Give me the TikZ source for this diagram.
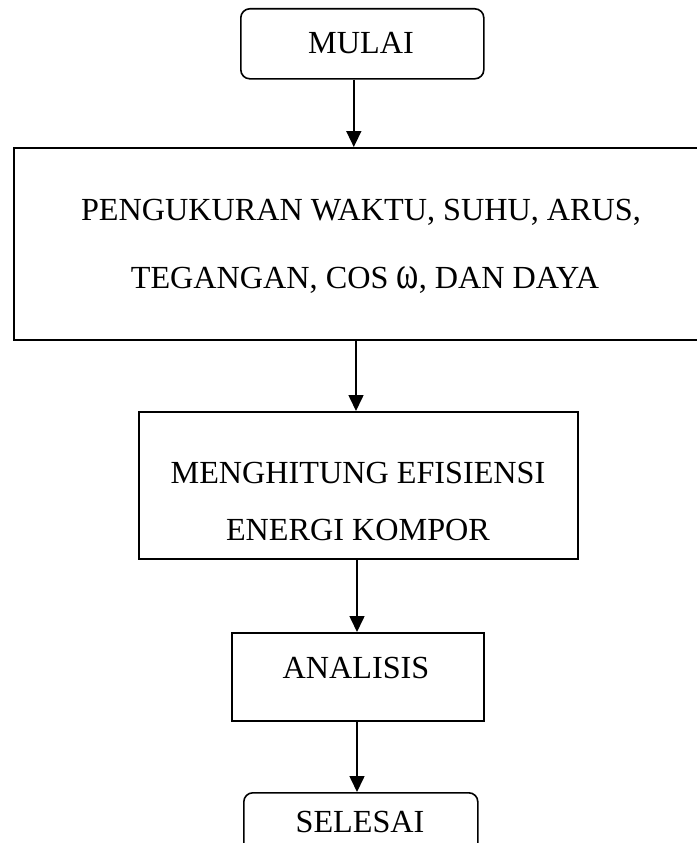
\documentclass[tikz,border=0pt]{standalone}
\usepackage{fontspec}
\setmainfont{Liberation Serif}
\usetikzlibrary{arrows.meta,calc}
\begin{document}
\begin{tikzpicture}[x=1pt,y=-1pt,
  box/.style={draw=black,line width=1.6pt,rectangle,inner sep=0pt,anchor=north west},
  term/.style={box,rounded corners=9pt},
  arr/.style={line width=1.6pt,-{Triangle[length=16pt,width=15pt]}},
  txt/.style={anchor=base,inner sep=0pt,font=\fontsize{32.2}{36}\selectfont}]
\useasboundingbox (0,0) rectangle (696,843);
% boxes
\node[term,minimum width=243pt,minimum height=70pt] (mulai) at (240,8) {};
\node[box,line width=2pt,minimum width=700pt,minimum height=192pt] (ukur) at (13,147) {};
\node[box,minimum width=439pt,minimum height=147pt] (hitung) at (138,411) {};
\node[box,minimum width=252pt,minimum height=88pt] (analisis) at (231,632) {};
\node[term,minimum width=234pt,minimum height=80pt] (selesai) at (243,792) {};
% texts
\node[txt] (t1) at (361,53) {MULAI};
\node[txt] (t2) at (361,220) {PENGUKURAN WAKTU, SUHU, ARUS,};
\node[txt] (t3) at (365,288) {TEGANGAN, COS \scalebox{1.05}[1.45]{ω}, DAN DAYA};
\node[txt] (t4) at (358,483) {MENGHITUNG EFISIENSI};
\node[txt] (t5) at (358,540) {ENERGI KOMPOR};
\node[txt] (t6) at (356,678) {ANALISIS};
\node[txt] (t7) at (360,832) {SELESAI};
% arrows
\coordinate (a1) at ($(mulai.south)+(-8.5,0)$);
\draw[arr] (a1) -- (a1 |- ukur.north);
\coordinate (a2) at (356,339);
\draw[arr] (a2 |- ukur.south) -- (a2 |- hitung.north);
\coordinate (a3) at (357,558);
\draw[arr] (a3 |- hitung.south) -- (a3 |- analisis.north);
\draw[arr] (a3 |- analisis.south) -- (a3 |- selesai.north);
\end{tikzpicture}
\end{document}
